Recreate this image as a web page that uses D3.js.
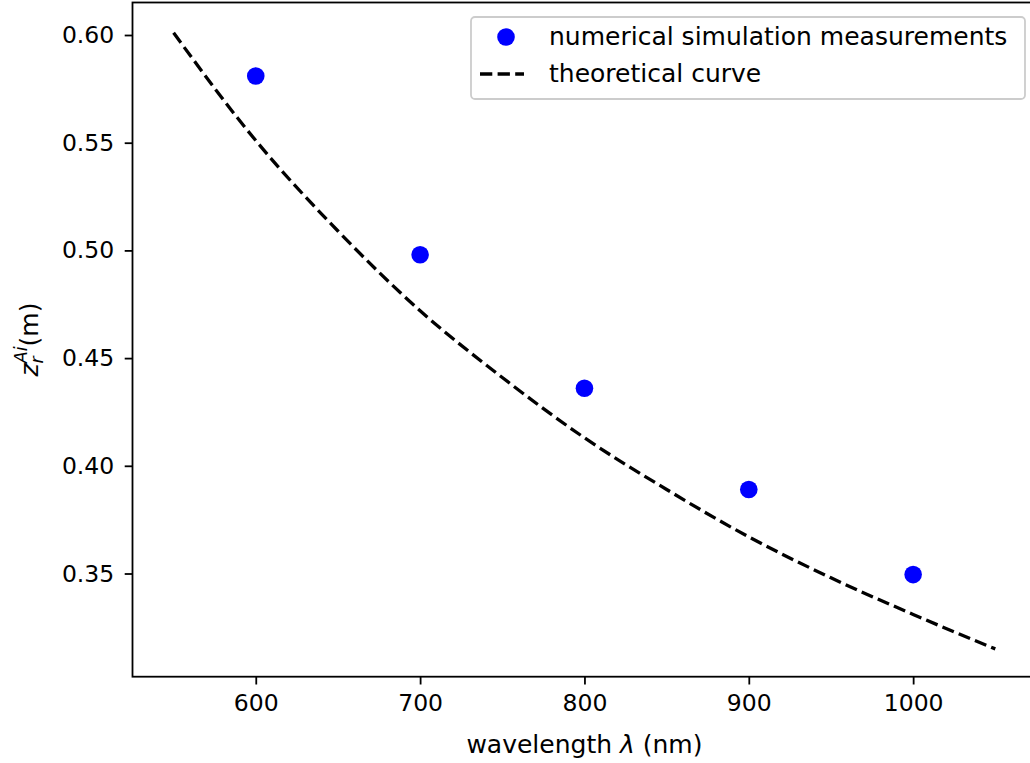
<!DOCTYPE html>
<html>
<head>
<meta charset="utf-8">
<script src="https://cdn.jsdelivr.net/npm/d3@7"></script>
<style>
  body { margin: 0; background: #fff; }
  svg { display: block; font-family: "DejaVu Sans", sans-serif; }
</style>
</head>
<body>
<svg id="chart" width="1030" height="763"></svg>
<script>
// measured points
const simWavelengths = [600, 700, 800, 900, 1000];
const simValues = [0.581, 0.498, 0.436, 0.389, 0.3495];

// theoretical curve, every 50 nm
const curveWavelengths = [550, 600, 650, 700, 750, 800, 850, 900, 950, 1000, 1050];
const curveValues = [0.601, 0.551, 0.509, 0.472, 0.441, 0.413, 0.389, 0.367, 0.348, 0.331, 0.315];

const xTicks = [600, 700, 800, 900, 1000];
const yTicks = [0.35, 0.40, 0.45, 0.50, 0.55, 0.60];

const legendLabels = ["numerical simulation measurements", "theoretical curve"];

const plotLeft = 132.5, plotRight = 1036.4, plotTop = 2.5, plotBottom = 676.7,
  tickFont = 23.5,
  labelFont = 25,
  tickLen = 7.8;

const x = d3.scaleLinear().domain([525, 1075]).range([plotLeft, plotRight]);
const y = d3.scaleLinear().domain([0.30209, 0.61509]).range([plotBottom, plotTop]);

const svg = d3.select("#chart");

// theoretical curve
const curveData = curveWavelengths.map((w, i) => ({ w, v: curveValues[i] }));
const line = d3.line()
  .x(d => x(d.w))
  .y(d => y(d.v))
  .curve(d3.curveMonotoneX);

svg.append("path")
  .datum(curveData)
  .attr("d", line)
  .attr("fill", "none")
  .attr("stroke", "black")
  .attr("stroke-width", 3.3)
  .attr("stroke-dasharray", "12.3,5.3");

// simulation points
svg.selectAll("circle.sim")
  .data(simWavelengths)
  .enter()
  .append("circle")
  .attr("class", "sim")
  .attr("cx", d => x(d))
  .attr("cy", (d, i) => y(simValues[i]))
  .attr("r", 8.8)
  .attr("fill", "blue");

// axes frame
svg.append("rect")
  .attr("x", plotLeft)
  .attr("y", plotTop)
  .attr("width", plotRight - plotLeft)
  .attr("height", plotBottom - plotTop)
  .attr("fill", "none")
  .attr("stroke", "black")
  .attr("stroke-width", 1.8);

// x axis
const xAxis = d3.axisBottom(x)
  .tickValues(xTicks)
  .tickFormat(d3.format("d"))
  .tickSize(tickLen)
  .tickPadding(9.5);
const gx = svg.append("g")
  .attr("transform", `translate(0,${plotBottom})`)
  .call(xAxis);
gx.select(".domain").remove();
gx.selectAll("line").attr("stroke", "black").attr("stroke-width", 1.8);
gx.selectAll("text")
  .attr("fill", "black")
  .style("font-size", tickFont + "px")
  .style("font-family", "DejaVu Sans");

// y axis
const yAxis = d3.axisLeft(y)
  .tickValues(yTicks)
  .tickFormat(d3.format(".2f"))
  .tickSize(tickLen)
  .tickPadding(10.5);
const gy = svg.append("g")
  .attr("transform", `translate(${plotLeft},0)`)
  .call(yAxis);
gy.select(".domain").remove();
gy.selectAll("line").attr("stroke", "black").attr("stroke-width", 1.8);
gy.selectAll("text")
  .attr("fill", "black")
  .style("font-size", tickFont + "px")
  .style("font-family", "DejaVu Sans");

// x label
const xl = svg.append("text")
  .attr("x", (plotLeft + plotRight) / 2)
  .attr("y", 753)
  .attr("text-anchor", "middle")
  .style("font-size", labelFont + "px")
  .attr("fill", "black");
xl.append("tspan").text("wavelength ");
xl.append("tspan").attr("font-style", "italic").text("λ");
xl.append("tspan").text(" (nm)");

// y label
const yl = svg.append("text")
  .attr("transform", `translate(38,${(plotTop + plotBottom) / 2}) rotate(-90)`)
  .attr("text-anchor", "middle")
  .style("font-size", labelFont + "px")
  .attr("fill", "black");
yl.append("tspan").attr("font-style", "italic").text("z");
yl.append("tspan").attr("font-style", "italic").attr("font-size", 17.5)
  .attr("dy", 5).text("r");
yl.append("tspan").attr("font-style", "italic").attr("font-size", 17.5)
  .attr("dx", -7).attr("dy", -16).text("Ai");
yl.append("tspan").attr("dy", 11).text("(m)");

// legend
const lg = svg.append("g").attr("transform", "translate(471,17)");
lg.append("rect")
  .attr("width", 554)
  .attr("height", 82)
  .attr("rx", 4)
  .attr("fill", "white")
  .attr("fill-opacity", 0.8)
  .attr("stroke", "#cccccc")
  .attr("stroke-width", 1.8);

lg.append("circle")
  .attr("cx", 35)
  .attr("cy", 20)
  .attr("r", 8.8)
  .attr("fill", "blue");
lg.append("line")
  .attr("x1", 9).attr("x2", 53)
  .attr("y1", 57).attr("y2", 57)
  .attr("stroke", "black")
  .attr("stroke-width", 3.3)
  .attr("stroke-dasharray", "12.3,5.3");

lg.selectAll("text.lab")
  .data(legendLabels)
  .enter()
  .append("text")
  .attr("class", "lab")
  .attr("x", 78)
  .attr("y", (d, i) => 19 + i * 37)
  .attr("dy", "0.35em")
  .style("font-size", labelFont + "px")
  .attr("fill", "black")
  .text(d => d);
</script>
</body>
</html>
